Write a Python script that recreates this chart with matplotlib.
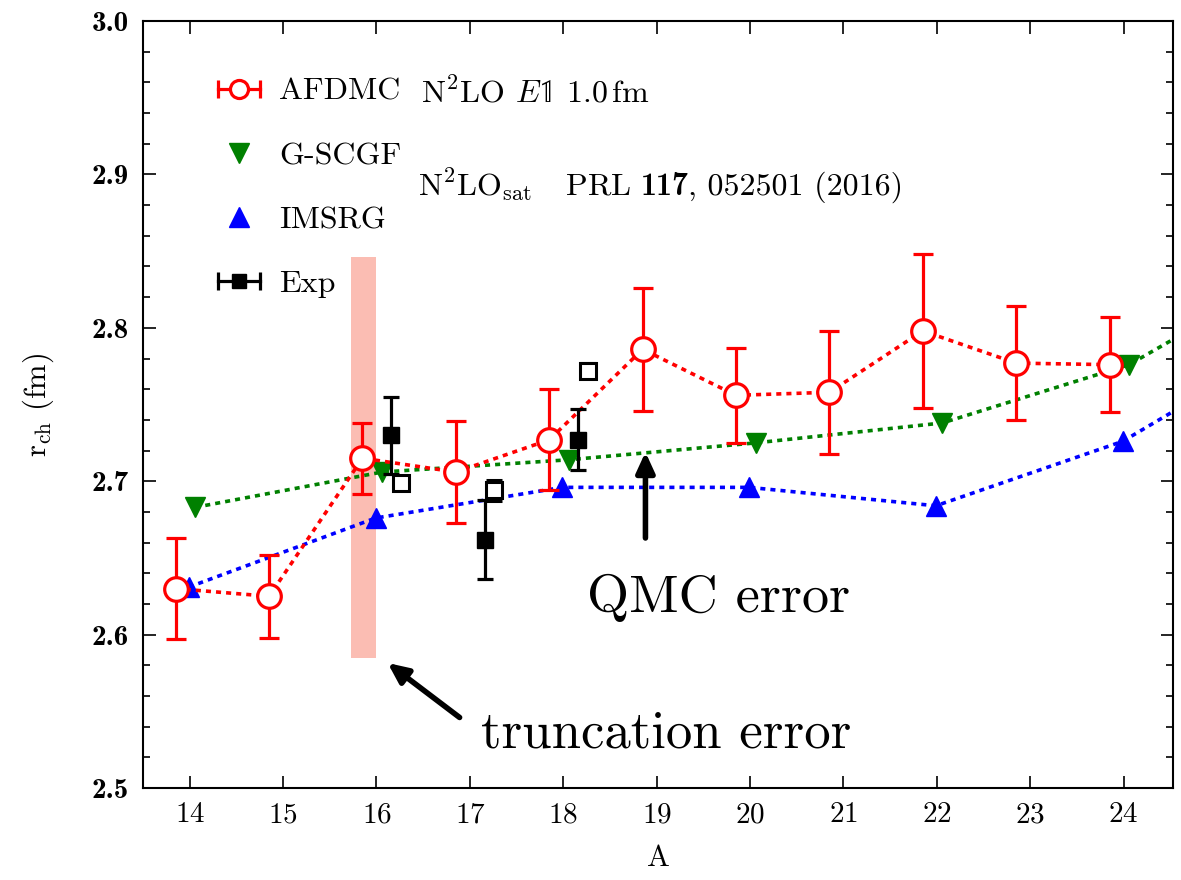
import matplotlib
matplotlib.use("Agg")
import matplotlib.pyplot as plt
from matplotlib.lines import Line2D
from matplotlib.legend_handler import HandlerLine2D
from matplotlib.ticker import MultipleLocator

plt.rcParams['font.family'] = ['cmr10', 'DejaVu Sans']
plt.rcParams['mathtext.fontset'] = 'cm'
plt.rcParams['axes.formatter.use_mathtext'] = True

# AFDMC (N2LO E1 1.0 fm)
afdmc_A = [14, 15, 16, 17, 18, 19, 20, 21, 22, 23, 24]
afdmc_r = [2.630, 2.625, 2.715, 2.706, 2.727, 2.786, 2.756, 2.758, 2.798, 2.777, 2.776]
afdmc_err = [0.033, 0.027, 0.023, 0.033, 0.033, 0.040, 0.031, 0.040, 0.050, 0.037, 0.031]

# G-SCGF and IMSRG (N2LOsat)
scgf_A = [14, 16, 18, 20, 22, 24, 26]
scgf_r = [2.683, 2.706, 2.714, 2.725, 2.738, 2.776, 2.846]
imsrg_A = [14, 16, 18, 20, 22, 24, 26]
imsrg_r = [2.631, 2.676, 2.696, 2.696, 2.684, 2.726, 2.798]

# experiment
exp1_A = [16, 17, 18]
exp1_r = [2.730, 2.662, 2.727]
exp1_err = [0.025, 0.026, 0.020]
exp2_A = [16, 17, 18]
exp2_r = [2.699, 2.694, 2.772]
exp2_err = [0.004, 0.007, 0.005]

# truncation error band
band_A = [15.73, 16.0]
band_r = [2.585, 2.846]

fig = plt.figure(figsize=(11.81, 8.8), dpi=100)
ax = fig.add_axes([0.1211, 0.1045, 0.8722, 0.8716])

ax.fill_between(band_A, band_r[0], band_r[1], color='#fbbdb3', lw=0, zorder=0)

dots = (0, (1.4, 1.4))
ax.plot([a + 0.06 for a in scgf_A], scgf_r, color='green', lw=2.6, ls=dots,
        marker='v', ms=15, zorder=3)
ax.plot([a - 0.01 for a in imsrg_A], imsrg_r, color='blue', lw=2.6, ls=dots,
        marker='^', ms=15, zorder=3)
ax.plot([a - 0.15 for a in afdmc_A], afdmc_r, color='red', lw=2.6, ls=dots, zorder=4)
ax.errorbar([a - 0.15 for a in afdmc_A], afdmc_r, yerr=afdmc_err, fmt='o', color='red',
            mfc='white', mec='red', ms=17, mew=2.3, elinewidth=2.3, capsize=7,
            capthick=2.3, zorder=5)
ax.errorbar([a + 0.16 for a in exp1_A], exp1_r, yerr=exp1_err, fmt='s', color='black',
            ms=11, elinewidth=2.3, capsize=5.5, capthick=2.3, zorder=6)
ax.errorbar([a + 0.26 for a in exp2_A], exp2_r, yerr=exp2_err, fmt='s', color='black',
            mfc='white', ms=11, mew=2.2, elinewidth=2.3, capsize=5.5, capthick=2.3, zorder=6)

# annotations
arrow = dict(arrowstyle='-|>,head_length=1.2,head_width=0.55', lw=4, color='black',
             shrinkA=0, shrinkB=0)
ax.annotate('', xy=(18.88, 2.719), xytext=(18.88, 2.663), arrowprops=arrow)
ax.text(19.66, 2.624, 'QMC error', fontsize=39, ha='center', va='center')
ax.annotate('', xy=(16.12, 2.5815), xytext=(16.89, 2.546), arrowprops=arrow)
ax.text(19.1, 2.535, 'truncation error', fontsize=38, ha='center', va='center')

# reference line, with bold volume number
t1 = ax.text(16.44, 2.8866, r'N$^2$LO$_{\rm sat}$   PRL', fontsize=23, va='baseline')
t2 = ax.annotate('117', xy=(1, 2.8866), xycoords=(t1, 'data'), xytext=(7, 0),
                 textcoords='offset points', fontsize=23, fontfamily='cmb10',
                 va='baseline')
ax.annotate(', 052501 (2016)', xy=(1, 2.8866), xycoords=(t2, 'data'),
            fontsize=23, va='baseline')
ax.text(16.476, 2.9472, r'N$^2$LO $E\mathbb{1}$ 1.0$\,$fm', fontsize=23, va='baseline')

# legend with gnuplot-like keys
caps_r = Line2D([], [], color='red', lw=2.3, marker='|', ms=13, mew=2.3)
circ_r = Line2D([], [], ls='none', marker='o', mfc='white', mec='red', ms=13, mew=2.3)
tri_g = Line2D([], [], ls='none', marker='v', color='green', ms=14)
tri_b = Line2D([], [], ls='none', marker='^', color='blue', ms=14)
caps_k = Line2D([], [], color='black', lw=2.3, marker='|', ms=13, mew=2.3)
sq_k = Line2D([], [], ls='none', marker='s', color='black', ms=10)
ax.legend([(caps_r, circ_r), tri_g, tri_b, (caps_k, sq_k)],
          ['AFDMC', 'G-SCGF', 'IMSRG', 'Exp'],
          handler_map={caps_r: HandlerLine2D(numpoints=2),
                       caps_k: HandlerLine2D(numpoints=2)},
          loc='upper left', bbox_to_anchor=(0.0515, 0.943), frameon=False,
          fontsize=23, labelspacing=1.12, handlelength=1.9, handletextpad=0.3,
          borderaxespad=0)

ax.set_xlim(13.5, 24.53)
ax.set_ylim(2.5, 3.0)
ax.set_xticks(range(14, 25))
ax.yaxis.set_major_locator(MultipleLocator(0.1))
ax.yaxis.set_minor_locator(MultipleLocator(0.02))
ax.yaxis.set_major_formatter(lambda v, p: f'{v:.1f}')
ax.tick_params(which='both', direction='in', top=True, right=True, width=1.2)
ax.tick_params(which='major', length=9)
ax.tick_params(which='minor', length=5)
ax.tick_params(axis='x', labelsize=21, pad=10)
ax.tick_params(axis='y', labelsize=21, pad=10)
for lab in ax.get_yticklabels():
    lab.set_fontfamily('cmb10')
for s in ax.spines.values():
    s.set_linewidth(1.5)

ax.set_xlabel('A', fontsize=22, labelpad=12)
ax.set_ylabel(r'r$_{\rm ch}$ (fm)', fontsize=22, labelpad=26)

fig.savefig('out.png', dpi=100)
